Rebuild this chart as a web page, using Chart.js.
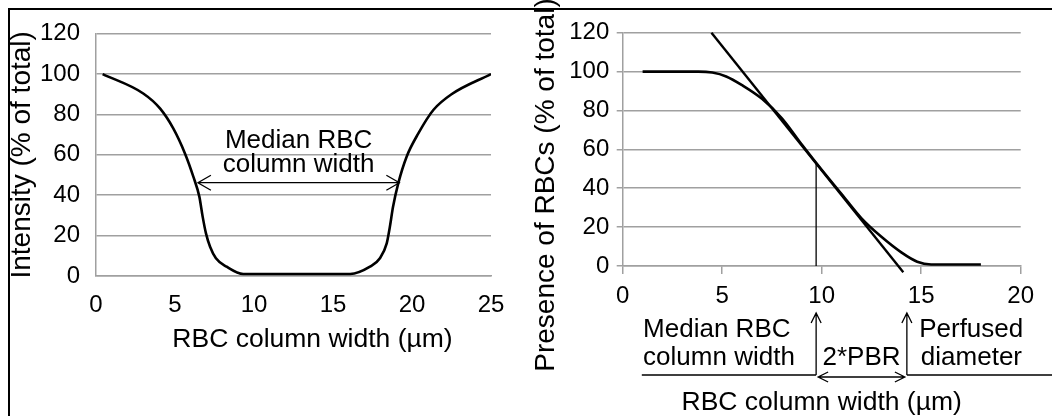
<!DOCTYPE html>
<html><head><meta charset="utf-8">
<script src="https://cdn.jsdelivr.net/npm/chart.js@4"></script>
<style>
html,body{margin:0;padding:0;background:#fff;}
#wrap{position:relative;width:1052px;height:416px;overflow:hidden;background:#fff;}
#c1{position:absolute;left:0;top:0;}
#c2{position:absolute;left:520px;top:0;}
#frame{position:absolute;left:8px;top:8px;width:1100px;height:500px;border-top:2px solid #000;border-left:2px solid #000;pointer-events:none;}
</style></head><body>
<div id="wrap"><canvas id="c1" width="520" height="416"></canvas><canvas id="c2" width="532" height="416"></canvas><div id="frame"></div></div>
<script>
// ---------- data: left panel (intensity profile) ----------
const intensityX = [0.42, 2.99, 4.05, 4.89, 5.63, 6.16, 6.54, 6.75, 6.96, 7.22, 7.59, 8.27, 9.32, 10.5, 12, 14, 16.08, 17.34, 17.97, 18.4, 18.6, 18.8, 19.13, 19.66, 20.4, 21.35, 22.5, 25];
const intensityY = [100, 90.4, 83, 73.1, 60.7, 49.2, 39.3, 29.4, 21.1, 14.5, 8.8, 4.6, 1, 1, 1, 1, 1, 4.6, 8.8, 16.2, 24.4, 34.3, 45.9, 59.1, 70.6, 82.2, 90, 100];
const leftXTicks = [0, 5, 10, 15, 20, 25];
const leftYTicks = [0, 20, 40, 60, 80, 100, 120];
const medianArrowX = [6.45, 19.2];
const medianArrowY = 46.2;

// ---------- data: right panel (presence of RBCs) ----------
const presenceX = [1, 2, 3, 3.8, 4.5, 5.2, 6, 7, 8, 9, 10, 11, 12, 13, 14, 14.8, 15.5, 16.5, 18];
const presenceY = [100, 100, 100, 100, 99.5, 97.5, 93, 86, 76, 62.5, 49.5, 37, 24.5, 15, 7, 2.2, 0.8, 0.8, 0.8];
const tangentX = [4.46, 14.1];
const tangentY = [120, -3.2];
const medianX = 9.72;
const medianY = 53.2;
const perfusedX = 14.28;
const baseStartX = 0.96;
const rightXTicks = [0, 5, 10, 15, 20];
const rightYTicks = [0, 20, 40, 60, 80, 100, 120];

const FONT = "'Liberation Sans', Arial, Helvetica, sans-serif";
const GRID = '#a0a0a0';
Chart.defaults.font.family = FONT;
Chart.defaults.color = '#000';

const pts = (xs, ys) => xs.map((x, i) => ({x, y: ys[i]}));
const setTicks = arr => (s => { s.ticks = arr.map(v => ({value: v})); });

function chevron(ctx, x, y, dx, dy, len, half) {
  // arrow tip at (x,y), pointing in direction (dx,dy)
  const px = -dy, py = dx;
  ctx.moveTo(x - dx * len + px * half, y - dy * len + py * half);
  ctx.lineTo(x, y);
  ctx.lineTo(x - dx * len - px * half, y - dy * len - py * half);
}

const leftAnno = {
  id: 'leftAnno',
  afterDatasetsDraw(chart) {
    const {ctx, chartArea} = chart;
    const x = chart.scales.x, y = chart.scales.y;
    ctx.save();
    ctx.strokeStyle = '#000';
    ctx.lineWidth = 1.3;
    const ya = y.getPixelForValue(medianArrowY);
    const xa = x.getPixelForValue(medianArrowX[0]);
    const xb = x.getPixelForValue(medianArrowX[1]);
    ctx.beginPath();
    ctx.moveTo(xa, ya); ctx.lineTo(xb, ya);
    chevron(ctx, xa, ya, -1, 0, 13, 7.5);
    chevron(ctx, xb, ya, 1, 0, 13, 7.5);
    ctx.stroke();
    ctx.fillStyle = '#000';
    ctx.font = '26px ' + FONT;
    ctx.textAlign = 'center';
    ctx.textBaseline = 'alphabetic';
    const tx = (xa + xb) / 2;
    ctx.fillText('Median RBC', tx, ya - 34.4);
    ctx.fillText('column width', tx, ya - 11);
    // x axis title
    ctx.font = '26.5px ' + FONT;
    ctx.fillText('RBC column width (\u00b5m)', (chartArea.left + chartArea.right) / 2 + 19, chartArea.bottom + 71.3);
    ctx.restore();
  }
};

const rightAnno = {
  id: 'rightAnno',
  afterDatasetsDraw(chart) {
    const {ctx, chartArea} = chart;
    const x = chart.scales.x;
    const b = chartArea.bottom;
    const xm = x.getPixelForValue(medianX);
    const xp = x.getPixelForValue(perfusedX);
    const xs = x.getPixelForValue(baseStartX);
    const tipY = b + 47, lineY = b + 109, dblY = b + 111;
    ctx.save();
    ctx.strokeStyle = '#000';
    ctx.lineWidth = 1.3;
    ctx.beginPath();
    ctx.moveTo(xm, tipY); ctx.lineTo(xm, lineY);
    chevron(ctx, xm, tipY, 0, -1, 10, 5);
    ctx.moveTo(xp, tipY); ctx.lineTo(xp, lineY);
    chevron(ctx, xp, tipY, 0, -1, 10, 5);
    ctx.moveTo(xs, lineY); ctx.lineTo(xm, lineY);
    ctx.moveTo(xp, lineY); ctx.lineTo(chart.width, lineY);
    ctx.moveTo(xm + 2, dblY); ctx.lineTo(xp - 2, dblY);
    chevron(ctx, xm + 2, dblY, -1, 0, 10, 5);
    chevron(ctx, xp - 2, dblY, 1, 0, 10, 5);
    ctx.stroke();
    ctx.fillStyle = '#000';
    ctx.font = '26px ' + FONT;
    ctx.textBaseline = 'alphabetic';
    ctx.textAlign = 'left';
    ctx.fillText('Median RBC', xs + 1.3, b + 70.7);
    ctx.fillText('column width', xs + 1.3, b + 99);
    ctx.fillText('Perfused', xp + 12.3, b + 70.7);
    ctx.fillText('diameter', xp + 14, b + 99);
    ctx.textAlign = 'center';
    ctx.fillText('2*PBR', (xm + xp) / 2, b + 99);
    // y axis title
    ctx.translate(26.7, 185);
    ctx.rotate(-Math.PI / 2);
    ctx.textBaseline = 'middle';
    ctx.font = '28px ' + FONT;
    ctx.fillText('Presence of RBCs (% of total)', 0, 0);
    ctx.restore();
  }
};

new Chart(document.getElementById('c1'), {
  type: 'scatter',
  data: {datasets: [{
    data: pts(intensityX, intensityY),
    showLine: true, borderColor: '#000', borderWidth: 2.6,
    pointRadius: 0, cubicInterpolationMode: 'monotone', fill: false
  }]},
  options: {
    responsive: false, animation: false, devicePixelRatio: 1,
    layout: {padding: {left: 0, top: 33.7, right: 29, bottom: 0}},
    plugins: {legend: {display: false}, tooltip: {enabled: false}},
    scales: {
      x: {
        type: 'linear', min: 0, max: 25,
        afterBuildTicks: setTicks(leftXTicks),
        afterFit: s => { s.height = 140; },
        grid: {display: false, drawTicks: false},
        border: {display: true, color: GRID, width: 1.5},
        ticks: {font: {size: 24}, padding: 14.6, maxRotation: 0, color: '#000'}
      },
      y: {
        type: 'linear', min: 0, max: 120,
        afterBuildTicks: setTicks(leftYTicks),
        afterFit: s => { s.width = 96; },
        grid: {color: GRID, lineWidth: 1.5, drawTicks: false},
        border: {display: true, color: GRID, width: 1.5},
        ticks: {font: {size: 24}, padding: 16, color: '#000'},
        title: {display: true, text: 'Intensity (% of total)', font: {size: 28}, padding: {top: 5.9, bottom: 0}, color: '#000'}
      }
    }
  },
  plugins: [leftAnno]
});

new Chart(document.getElementById('c2'), {
  type: 'scatter',
  data: {datasets: [
    {data: pts(presenceX, presenceY), showLine: true, borderColor: '#000', borderWidth: 2.6,
     pointRadius: 0, cubicInterpolationMode: 'monotone', fill: false},
    {data: pts(tangentX, tangentY), showLine: true, borderColor: '#000', borderWidth: 2.4,
     pointRadius: 0, fill: false, clip: false},
    {data: pts([medianX, medianX], [0, medianY]), showLine: true, borderColor: '#000', borderWidth: 1.3,
     pointRadius: 0, fill: false}
  ]},
  options: {
    responsive: false, animation: false, devicePixelRatio: 1,
    layout: {padding: {left: 0, top: 32.7, right: 31.3, bottom: 0}},
    plugins: {legend: {display: false}, tooltip: {enabled: false}},
    scales: {
      x: {
        type: 'linear', min: 0, max: 20,
        afterBuildTicks: setTicks(rightXTicks),
        afterFit: s => { s.height = 150; },
        grid: {drawOnChartArea: false, drawTicks: true, tickLength: 8, color: GRID, lineWidth: 1.5},
        border: {display: true, color: GRID, width: 1.5},
        ticks: {font: {size: 24}, padding: 8.3, maxRotation: 0, color: '#000'},
        title: {display: true, text: 'RBC column width (\u00b5m)', font: {size: 26.5, lineHeight: 1}, padding: {top: 0, bottom: 0}, color: '#000'}
      },
      y: {
        type: 'linear', min: 0, max: 120,
        afterBuildTicks: setTicks(rightYTicks),
        afterFit: s => { s.width = 102.7; },
        grid: {color: GRID, lineWidth: 1.5, drawTicks: true, tickLength: 6},
        border: {display: true, color: GRID, width: 1.5},
        ticks: {font: {size: 24}, padding: 7.4, color: '#000'}
      }
    }
  },
  plugins: [rightAnno]
});
</script>
</body></html>
